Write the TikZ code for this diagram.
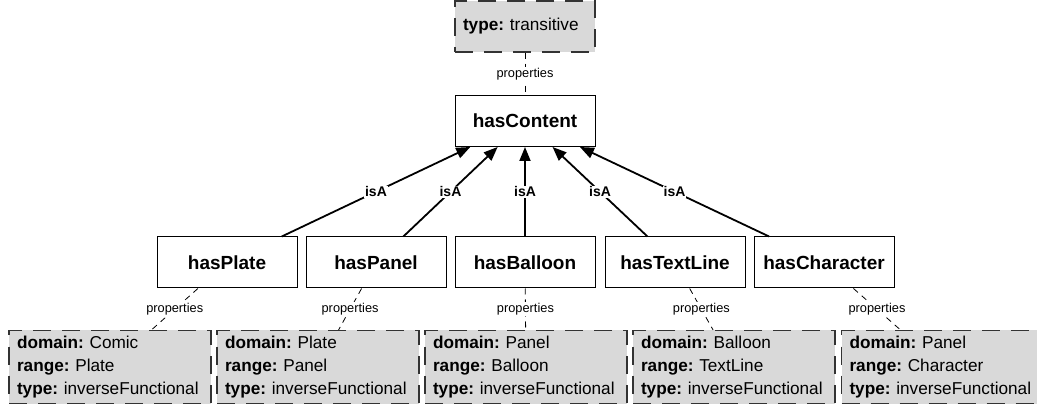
\documentclass[tikz,border=0pt]{standalone}
\usepackage{fontspec}
\setmainfont{Liberation Sans}
\usetikzlibrary{arrows.meta}
\definecolor{propfill}{HTML}{D9D9D9}
\definecolor{propdraw}{HTML}{333333}
\frenchspacing
\hyphenpenalty=10000\relax
\begin{document}
\begin{tikzpicture}[x=1pt,y=-1pt,
 cls/.style={draw=black, line width=1pt, fill=white, minimum width=140pt, minimum height=51pt, inner sep=0pt, font=\fontsize{19}{22}\selectfont\bfseries},
 prop/.style={draw=propdraw, dash pattern=on 18pt off 11pt, line width=1.2pt, fill=propfill, minimum width=202pt, minimum height=73pt, text width=186pt, inner xsep=8pt, inner ysep=0pt, align=left, font=\fontsize{17.2}{23}\selectfont\frenchspacing},
 isa/.style={-{Triangle[length=14pt,width=11pt]}, line width=1.8pt},
 propline/.style={dash pattern=on 6pt off 5pt, line width=0.8pt},
 plab/.style={fill=white, inner sep=1pt, font=\fontsize{12.8}{14}\selectfont},
 ilab/.style={fill=white, inner sep=1pt, font=\fontsize{14}{16}\selectfont\bfseries}]
\useasboundingbox (0,0) rectangle (1037,406);
% top
\node[prop, minimum width=140pt, text width=124pt, minimum height=51pt] (tp) at (525,26.5) {\textbf{type:} transitive};
\node[cls] (content) at (525,121) {hasContent};
\draw[propline] (tp) -- (content) node[midway, plab] {properties};
% classes
\node[cls] (plate) at (227,262.5) {hasPlate};
\node[cls] (panel) at (376,262.5) {hasPanel};
\node[cls] (balloon) at (525,262.5) {hasBalloon};
\node[cls] (textline) at (675,262.5) {hasTextLine};
\node[cls] (character) at (824,262.5) {hasCharacter};
% property boxes
\node[prop] (p1) at (110,367) {\textbf{domain:} Comic\\\textbf{range:} Plate\\\textbf{type:} inverseFunctional};
\node[prop] (p2) at (318,367) {\textbf{domain:} Plate\\\textbf{range:} Panel\\\textbf{type:} inverseFunctional};
\node[prop] (p3) at (526,367) {\textbf{domain:} Panel\\\textbf{range:} Balloon\\\textbf{type:} inverseFunctional};
\node[prop] (p4) at (734,367) {\textbf{domain:} Balloon\\\textbf{range:} TextLine\\\textbf{type:} inverseFunctional};
\node[prop] (p5) at (942.5,367) {\textbf{domain:} Panel\\\textbf{range:} Character\\\textbf{type:} inverseFunctional};
% isA edges
\foreach \c in {plate,panel,balloon,textline,character}
  \draw[isa] (\c) -- (content) node[midway, ilab] {isA};
% properties edges
\draw[propline] (plate) -- (p1) node[midway, plab] {properties};
\draw[propline] (panel) -- (p2) node[midway, plab] {properties};
\draw[propline] (balloon) -- (p3) node[midway, plab] {properties};
\draw[propline] (textline) -- (p4) node[midway, plab] {properties};
\draw[propline] (character) -- (p5) node[midway, plab] {properties};
\end{tikzpicture}
\end{document}
